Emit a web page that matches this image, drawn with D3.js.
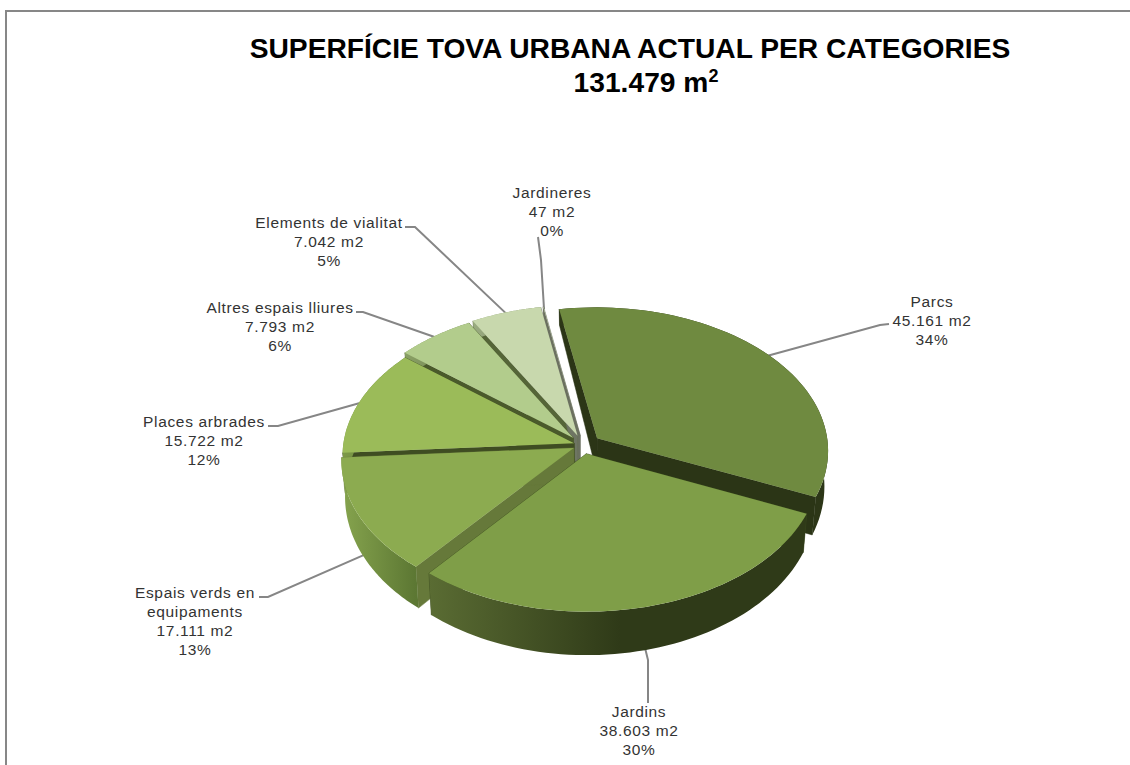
<!DOCTYPE html>
<html>
<head>
<meta charset="utf-8">
<script src="https://cdnjs.cloudflare.com/ajax/libs/d3/7.8.5/d3.min.js"></script>
<style>
  html, body { margin: 0; padding: 0; background: #fff; }
  text { font-family: "Liberation Sans", Arial, sans-serif; }
</style>
</head>
<body>
<script>
// data
var categories = ['Parcs', 'Jardins', 'Espais verds en equipaments', 'Places arbrades', 'Altres espais lliures', 'Elements de vialitat', 'Jardineres'];
var values = [45161, 38603, 17111, 15722, 7793, 7042, 47];
var valueLabels = ['45.161 m2', '38.603 m2', '17.111 m2', '15.722 m2', '7.793 m2', '7.042 m2', '47 m2'];
var percentLabels = ['34%', '30%', '13%', '12%', '6%', '5%', '0%'];
var titleLines = ['SUPERFÍCIE TOVA URBANA ACTUAL PER CATEGORIES', '131.479 m'];

// look of the slices
var explode = [0.078, 0.062, 0.045, 0.04, 0.065, 0.07, 0.07];
var topColors = ['#6f8a40', '#7f9e48', '#8cab50', '#9bbb59', '#b2cc8c', '#c8d8ad', '#d6e2c2'];
var wallStart = ['#2b3516', '#3a4a1e', '#66793a', '#3f4d22', '#4a5a2b', '#556538', '#6b7060'];
var wallEnd = ['#2b3516', '#3a4a1e', '#66793a', '#3f4d22', '#4a5a2b', '#6e7563', '#6b7060'];
var rimFrom = ['#2c3617', '#5a6c33', '#86a44e', '#7d9a48', '#8aa065', '#9aab80', '#6b7060'];
var rimTo = ['#2c3617', '#2f3a18', '#5c7733', '#5f7a35', '#6b7f4d', '#7c8c66', '#6b7060'];
var drawOrder = [6, 5, 4, 3, 0, 2, 1];

// label position: centre x, first baseline y, then the leader elbow and end
var labelX = [932, 639, 195, 204, 280, 329, 552];
var labelY = [307, 717, 598, 427, 313, 228, 198];
var leaderElbow = [[880, 325], [648, 660], [268, 597], [278, 426], [363, 312], [415, 227], [541, 260]];
var leaderEnd = [[889, 324], [648, 703], [259, 597], [268, 426], [356, 312], [405, 227], [538, 237]];
var leaderDepth = [0, 0.9, 1, 0, 0, 0, 0];

var width = 1130, height = 765;
var svg = d3.select('body').append('svg')
    .attr('width', width)
    .attr('height', height)
    .style('display', 'block');

var defs = svg.append('defs');

// frame, cut by the window on the right and the bottom
svg.append('path')
    .attr('d', 'M6,' + height + 'V11H' + width)
    .attr('fill', 'none')
    .attr('stroke', '#878787')
    .attr('stroke-width', 2);

// titre
var title = svg.append('g').attr('text-anchor', 'middle').attr('font-weight', 'bold').attr('fill', '#000');
title.append('text')
    .attr('x', 630).attr('y', 58)
    .attr('font-size', 28.2)
    .text(titleLines[0]);
var t2 = title.append('text')
    .attr('x', 646).attr('y', 92)
    .attr('font-size', 28.2)
    .text(titleLines[1]);
t2.append('tspan')
    .attr('dy', -10)
    .attr('font-size', 18)
    .text('2');

// projection of the tilted disc
var cx = 583, cy = 445;
var radiusX = 231, radiusY = 143, persp = 0.085;
var depth = d3.scaleLinear().domain([-1, -0.4, 1]).range([17, 32, 43]);

var pie = d3.pie()
    .sort(null)
    .startAngle(-10 * Math.PI / 180)
    .endAngle(350 * Math.PI / 180);
var arcs = pie(values);

function project(i, angle, r, z) {
    var d = arcs[i];
    var mid = (d.startAngle + d.endAngle) / 2;
    var X = r * Math.sin(angle) + explode[i] * Math.sin(mid);
    var Y = -r * Math.cos(angle) - explode[i] * Math.cos(mid);
    var f = 1 / (1 - persp * Y);
    var sx = cx + X * radiusX * f;
    var sy = cy + Y * radiusY * f;
    if (z) {
        sx = cx + (sx - cx) * (1 - 0.015 * z);
        sy = sy + z * depth(Y);
    }
    return [sx, sy];
}

var line = d3.line();

function rimPoints(i, z) {
    var d = arcs[i];
    return d3.range(0, 61).map(function (k) {
        return project(i, d.startAngle + (d.endAngle - d.startAngle) * k / 60, 1, z);
    });
}

// leader lines go below the pie
var leaders = svg.append('g')
    .attr('fill', 'none')
    .attr('stroke', '#868686')
    .attr('stroke-width', 2);
leaderEnd.forEach(function (end, i) {
    var d = arcs[i];
    var mid = (d.startAngle + d.endAngle) / 2;
    leaders.append('path').attr('d', line([project(i, mid, 0.98, leaderDepth[i]), leaderElbow[i], end]));
});

// slices, back to front
var pieG = svg.append('g');
drawOrder.forEach(function (i) {
    var d = arcs[i];
    var g = pieG.append('g');
    var rimTop = rimPoints(i, 0);
    var rimBottom = rimPoints(i, 1);

    var apexTop = project(i, d.startAngle, 0, 0);
    var apexBottom = project(i, d.startAngle, 0, 1);

    // radial walls
    g.append('path')
        .attr('d', line([apexTop, rimTop[0], rimBottom[0], apexBottom]) + 'Z')
        .attr('fill', wallStart[i]).attr('stroke', wallStart[i]).attr('stroke-width', 0.5);
    g.append('path')
        .attr('d', line([apexTop, rimTop[60], rimBottom[60], apexBottom]) + 'Z')
        .attr('fill', wallEnd[i]).attr('stroke', wallEnd[i]).attr('stroke-width', 0.5);

    // outer rim
    var xs = rimTop.map(function (p) { return p[0]; });
    var grad = defs.append('linearGradient')
        .attr('id', 'rim' + i)
        .attr('gradientUnits', 'userSpaceOnUse')
        .attr('x1', d3.min(xs))
        .attr('x2', i == 1 ? 620 : d3.max(xs))
        .attr('y1', 0).attr('y2', 0);
    grad.append('stop').attr('offset', 0).attr('stop-color', rimFrom[i]);
    grad.append('stop').attr('offset', 1).attr('stop-color', rimTo[i]);
    g.append('path')
        .attr('d', line(rimTop.concat(rimBottom.slice().reverse())) + 'Z')
        .attr('fill', 'url(#rim' + i + ')');

    // top face
    g.append('path')
        .attr('d', line([apexTop].concat(rimTop)) + 'Z')
        .attr('fill', topColors[i]);
});

// labels
categories.forEach(function (name, i) {
    var lines = name == 'Espais verds en equipaments' ? ['Espais verds en', 'equipaments'] : [name];
    lines = lines.concat([valueLabels[i], percentLabels[i]]);
    var txt = svg.append('text')
        .attr('text-anchor', 'middle')
        .attr('font-size', 15.5)
        .attr('letter-spacing', 0.65)
        .attr('fill', '#333');
    lines.forEach(function (s, k) {
        txt.append('tspan')
            .attr('x', labelX[i])
            .attr('y', labelY[i] + k * 19)
            .text(s);
    });
});
</script>
</body>
</html>
